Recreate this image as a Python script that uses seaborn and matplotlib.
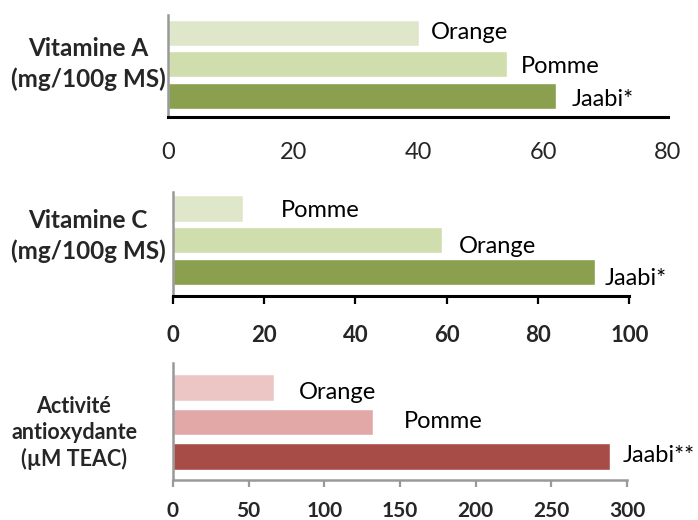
import matplotlib
matplotlib.use('Agg')
import matplotlib.pyplot as plt
import seaborn as sns

sns.set_style('white')
plt.rcParams['font.family'] = ['Lato', 'DejaVu Sans']

# data
vitA_fruits = ['Orange', 'Pomme', 'Jaabi*']
vitA_values = [40.1, 54.2, 62.0]

vitC_fruits = ['Pomme', 'Orange', 'Jaabi*']
vitC_values = [15.3, 59.0, 92.4]

antiox_fruits = ['Orange', 'Pomme', 'Jaabi**']
antiox_values = [66.8, 132.4, 288.8]

vitA_ticks = [0, 20, 40, 60, 80]
vitC_ticks = [0, 20, 40, 60, 80, 100]
antiox_ticks = [0, 50, 100, 150, 200, 250, 300]

green_colors = ['#dfe7cb', '#d0ddad', '#8aa04e']
red_colors = ['#ecc6c5', '#e2a8a7', '#a84c48']

W, H = 698, 520


def add_panel(fig, box, fruits, values, colors, bar_h, ylim, ticks, offsets):
    """box = (left, top, right, bottom) in pixels"""
    l, t, r, b = box
    ax = fig.add_axes([l / W, 1 - b / H, (r - l) / W, (b - t) / H])
    sns.barplot(x=values, y=fruits, hue=fruits, palette=colors, orient='h',
                width=bar_h, legend=False, saturation=1, ax=ax)
    ax.set_xlim(ticks[0], ticks[-1])
    ax.set_ylim(*ylim)
    ax.set_xticks(ticks)
    ax.set_yticks([])
    ax.set_xlabel('')
    ax.set_ylabel('')
    for s in ['top', 'right']:
        ax.spines[s].set_visible(False)
    # value labels next to each bar
    for i, (name, v) in enumerate(zip(fruits, values)):
        dx, dy = offsets[i]
        ax.annotate(name, xy=(v, i), xytext=(dx, -dy), textcoords='offset pixels',
                    ha='left', va='baseline', fontsize=17, color='black')
    return ax


fig = plt.figure(figsize=(W / 100, H / 100), dpi=100)

# Vitamine A
ax1 = add_panel(fig, (168.4, 15, 668, 117), vitA_fruits, vitA_values, green_colors,
                0.83, (2.672, -0.56), vitA_ticks, [(12, 6.5), (14, 8.5), (16, 10)])
ax1.spines['left'].set_color('#999999')
ax1.spines['left'].set_linewidth(1.8)
ax1.spines['bottom'].set_color('black')
ax1.spines['bottom'].set_linewidth(2.2)
ax1.tick_params(axis='x', length=0, pad=18, labelsize=17)
fig.text(88 / W, 1 - 64 / H, 'Vitamine A\n(mg/100g MS)', ha='center', va='center',
         multialignment='center', fontsize=17.5, fontweight='bold', linespacing=1.34)

# Vitamine C
ax2 = add_panel(fig, (172.8, 192, 629.4, 296), vitC_fruits, vitC_values, green_colors,
                0.82, (2.756, -0.52), vitC_ticks, [(38, 8), (16.5, 13), (10, 13)])
ax2.spines['left'].set_color('#999999')
ax2.spines['left'].set_linewidth(1.8)
ax2.spines['bottom'].set_color('black')
ax2.spines['bottom'].set_linewidth(2.2)
ax2.tick_params(axis='x', bottom=True, length=6, width=1.6, color='black', pad=15,
                labelsize=16)
for lab in ax2.get_xticklabels():
    lab.set_fontweight('bold')
fig.text(88 / W, 1 - 236 / H, 'Vitamine C\n(mg/100g MS)', ha='center', va='center',
         multialignment='center', fontsize=17.5, fontweight='bold', linespacing=1.34)

# Activite antioxydante
ax3 = add_panel(fig, (172.8, 363, 627.2, 480), antiox_fruits, antiox_values, red_colors,
                0.78, (2.68, -0.71), antiox_ticks, [(25, 11), (31, 6), (12.5, 5)])
for s in ['left', 'bottom']:
    ax3.spines[s].set_color('#999999')
    ax3.spines[s].set_linewidth(1.8)
ax3.tick_params(axis='x', bottom=True, length=5, width=1.6, color='#999999', pad=10,
                labelsize=15)
for lab in ax3.get_xticklabels():
    lab.set_fontweight('bold')
fig.text(74 / W, 1 - 433 / H, 'Activité\nantioxydante\n(µM TEAC)', ha='center', va='center',
         multialignment='center', fontsize=15.5, fontweight='bold', linespacing=1.26)

fig.savefig('out.png', dpi=100)
